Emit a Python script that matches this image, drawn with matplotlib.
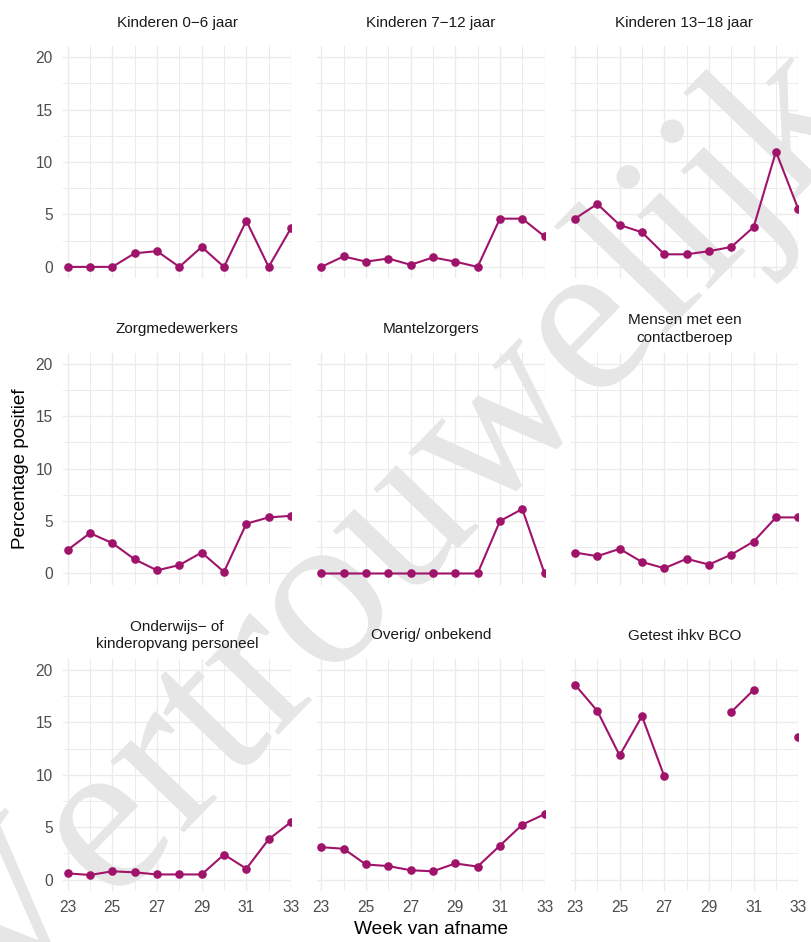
import numpy as np
import matplotlib
matplotlib.use("Agg")
import matplotlib.pyplot as plt
from matplotlib.ticker import MultipleLocator
from matplotlib.textpath import TextPath
from matplotlib.patches import PathPatch
from matplotlib.transforms import Affine2D
from matplotlib.font_manager import FontProperties

weeks = [23, 24, 25, 26, 27, 28, 29, 30, 31, 32, 33]

titles = [
    "Kinderen 0\u22126 jaar",
    "Kinderen 7\u221212 jaar",
    "Kinderen 13\u221218 jaar",
    "Zorgmedewerkers",
    "Mantelzorgers",
    "Mensen met een\ncontactberoep",
    "Onderwijs\u2212 of\nkinderopvang personeel",
    "Overig/ onbekend",
    "Getest ihkv BCO",
]

kinderen_0_6 = [0, 0, 0, 1.3, 1.5, 0, 1.9, 0, 4.4, 0, 3.7]
kinderen_7_12 = [0, 1.0, 0.5, 0.8, 0.2, 0.9, 0.5, 0, 4.6, 4.6, 2.9]
kinderen_13_18 = [4.6, 6.0, 4.0, 3.3, 1.2, 1.2, 1.5, 1.9, 3.8, 11.0, 5.5]
zorgmedewerkers = [2.25, 3.85, 2.9, 1.35, 0.3, 0.8, 2.0, 0.15, 4.75, 5.35, 5.5]
mantelzorgers = [0, 0, 0, 0, 0, 0, 0, 0, 5.0, 6.15, 0]
contactberoep = [2.0, 1.65, 2.35, 1.1, 0.5, 1.4, 0.85, 1.8, 3.05, 5.35, 5.35]
onderwijs = [0.6, 0.45, 0.8, 0.7, 0.5, 0.5, 0.5, 2.4, 1.05, 3.85, 5.5]
overig = [3.1, 2.95, 1.45, 1.3, 0.9, 0.8, 1.55, 1.25, 3.25, 5.25, 6.25]
getest_bco = [18.6, 16.1, 11.85, 15.6, 9.85, np.nan, np.nan, 16.0, 18.1, np.nan, 13.6]

series = [kinderen_0_6, kinderen_7_12, kinderen_13_18, zorgmedewerkers,
          mantelzorgers, contactberoep, onderwijs, overig, getest_bco]

x_ticks = [23, 25, 27, 29, 31, 33]
y_ticks = [0, 5, 10, 15, 20]

watermark = "Vertrouwelijk"

plt.rcParams["font.family"] = ["Liberation Sans", "DejaVu Sans"]

W, H = 811, 942
fig = plt.figure(figsize=(W / 100, H / 100), dpi=100)
fig.patch.set_facecolor("white")

col_left = [63.2, 316.8, 570.5]
col_w = 227.8
row_top = [46.2, 352.8, 659.0]
row_h = 231.7
XLIM = (22.8, 33.0)
YLIM = (-1.05, 21.05)

line_col = "#A0136A"
grid_col = "#EBEBEB"

def rect(c, r):
    x0 = col_left[c]
    y0 = row_top[r]
    return [x0 / W, 1 - (y0 + row_h) / H, col_w / W, row_h / H]

for i, (title, vals) in enumerate(zip(titles, series)):
    r, c = divmod(i, 3)
    # background panel with grid
    ax = fig.add_axes(rect(c, r), zorder=0)
    ax.set_facecolor("white")
    ax.set_xlim(*XLIM)
    ax.set_ylim(*YLIM)
    ax.set_xticks(x_ticks)
    ax.set_yticks(y_ticks)
    ax.xaxis.set_minor_locator(MultipleLocator(1))
    ax.yaxis.set_minor_locator(MultipleLocator(2.5))
    ax.grid(True, which="major", color=grid_col, linewidth=1.0)
    ax.grid(True, which="minor", color=grid_col, linewidth=0.7)
    ax.set_axisbelow(True)
    for s in ax.spines.values():
        s.set_visible(False)
    ax.tick_params(which="both", length=0, labelbottom=False, labelleft=False)

    # foreground panel with data and tick labels
    axd = fig.add_axes(rect(c, r), zorder=2)
    axd.set_facecolor("none")
    axd.set_xlim(*XLIM)
    axd.set_ylim(*YLIM)
    axd.set_xticks(x_ticks)
    axd.set_yticks(y_ticks)
    for s in axd.spines.values():
        s.set_visible(False)
    axd.tick_params(which="both", length=0, labelsize=11.2, labelcolor="#4D4D4D")
    axd.tick_params(axis="y", pad=7.5)
    axd.tick_params(axis="x", pad=6.5)
    if c != 0:
        axd.tick_params(labelleft=False)
    if r != 2:
        axd.tick_params(labelbottom=False)
    axd.plot(weeks, vals, color=line_col, linewidth=1.5, marker="o",
             markersize=6.2, markeredgewidth=0, solid_capstyle="round")

    cx = (col_left[c] + col_w / 2) / W
    cy = 1 - (row_top[r] - 23.5) / H
    fig.text(cx, cy, title, ha="center", va="center", fontsize=11.0,
             color="#1A1A1A", linespacing=1.35)

# watermark (between grid and data), drawn in pixel coordinates
wax = fig.add_axes([0, 0, 1, 1], zorder=1)
wax.set_xlim(0, W)
wax.set_ylim(H, 0)
wax.axis("off")
fp = FontProperties(family="Liberation Serif")
em = 223.0
advances = [0.722, 0.444, 0.333, 0.278, 0.333, 0.5, 0.5, 0.722, 0.444,
            0.278, 0.278, 0.278, 0.5]
tr = Affine2D().scale(1, -1).rotate_deg(-46).translate(0, 1023)
xpos = 0.0
for ch, a in zip(watermark, advances):
    tp = TextPath((xpos * em, 0), ch, size=em, prop=fp)
    wax.add_patch(PathPatch(tp, transform=tr + wax.transData,
                            facecolor="#E6E6E6", edgecolor="none", lw=0))
    xpos += a

fig.text(431 / W, 1 - 930 / H, "Week van afname", ha="center", va="center",
         fontsize=13.8, color="black")
fig.text(21 / W, 1 - 469 / H, "Percentage positief", ha="center", va="center",
         rotation=90, fontsize=13.6, color="black")

fig.savefig("out.png", dpi=100, facecolor="white")
